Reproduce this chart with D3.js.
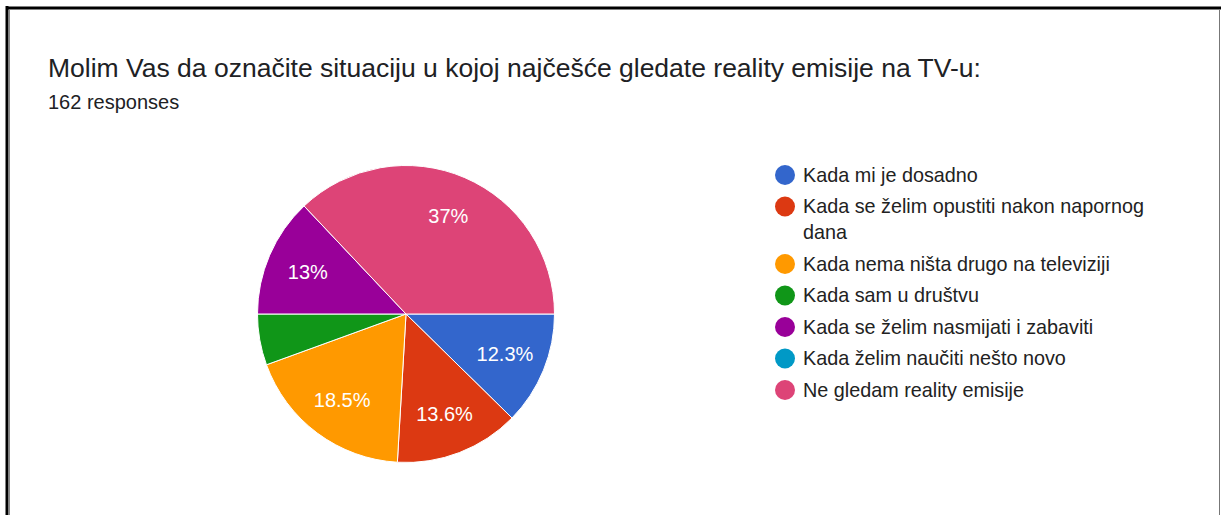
<!DOCTYPE html>
<html>
<head>
<meta charset="utf-8">
<script src="https://cdn.jsdelivr.net/npm/d3@7"></script>
<style>
  body { margin: 0; background: #fff; }
  svg { display: block; font-family: "Liberation Sans", Arial, sans-serif; }
</style>
</head>
<body>
<div id="chart"></div>
<script>
const title = "Molim Vas da označite situaciju u kojoj najčešće gledate reality emisije na TV-u:";
const subtitle = "162 responses";

const categories = [
    "Kada mi je dosadno",
    "Kada se želim opustiti nakon napornog dana",
    "Kada nema ništa drugo na televiziji",
    "Kada sam u društvu",
    "Kada se želim nasmijati i zabaviti",
    "Kada želim naučiti nešto novo",
    "Ne gledam reality emisije"
];
// response counts (162 total)
const counts = [20, 22, 30, 9, 21, 0, 60];
const colors = ["#3366cc", "#dc3912", "#ff9900", "#109618", "#990099", "#0099c6", "#dd4477"];

const W = 1221, H = 515;
const svg = d3.select("#chart").append("svg")
    .attr("width", W)
    .attr("height", H);

// frame of the screenshot
svg.append("rect").attr("x", 0).attr("y", 0).attr("width", W).attr("height", H).attr("fill", "#fff");
svg.append("line").attr("x1", 7).attr("x2", 7).attr("y1", 6).attr("y2", H).attr("stroke", "#000").attr("stroke-width", 3);
svg.append("line").attr("x1", 6).attr("x2", W).attr("y1", 8).attr("y2", 8).attr("stroke", "#000").attr("stroke-width", 3);
svg.append("line").attr("x1", 9.5).attr("x2", 9.5).attr("y1", 10).attr("y2", H).attr("stroke", "#888").attr("stroke-width", 1);
svg.append("line").attr("x1", 1219.5).attr("x2", 1219.5).attr("y1", 10).attr("y2", H).attr("stroke", "#777").attr("stroke-width", 1);

// Title
svg.append("text")
    .attr("x", 48)
    .attr("y", 77)
    .style("font-size", "26.5px")
    .attr("fill", "#202124")
    .text(title);

svg.append("text")
    .attr("x", 48)
    .attr("y", 109)
    .style("font-size", "20px")
    .attr("fill", "#202124")
    .text(subtitle);

// Pie
const cx = 406, cy = 314, r = 148.5;
const total = d3.sum(counts);
const data = categories.map((c, i) => ({ name: c, value: counts[i], color: colors[i] }));

const pie = d3.pie()
    .sort(null)
    .value(d => d.value)
    .startAngle(Math.PI / 2)
    .endAngle(Math.PI / 2 + 2 * Math.PI);

const arc = d3.arc().innerRadius(0).outerRadius(r);
const labelArc = d3.arc().innerRadius(r * 0.72).outerRadius(r * 0.72);

const g = svg.append("g").attr("transform", `translate(${cx},${cy})`);
const arcs = pie(data);

g.selectAll("path")
    .data(arcs.filter(d => d.data.value > 0))
    .enter().append("path")
    .attr("d", arc)
    .attr("fill", d => d.data.color)
    .attr("stroke", "#fff")
    .attr("stroke-width", 1);

const fmt = v => {
    const p = Math.round(v / total * 1000) / 10;
    return p + "%";
};

g.selectAll(".slice-label")
    .data(arcs.filter(d => d.data.value / total > 0.08))
    .enter().append("text")
    .attr("class", "slice-label")
    .attr("transform", d => `translate(${labelArc.centroid(d)})`)
    .attr("text-anchor", "middle")
    .attr("dy", "0.35em")
    .attr("fill", "#fff")
    .style("font-size", "20px")
    .text(d => fmt(d.data.value));

// Legend
const legendRows = [
    { lines: ["Kada mi je dosadno"] },
    { lines: ["Kada se želim opustiti nakon napornog", "dana"] },
    { lines: ["Kada nema ništa drugo na televiziji"] },
    { lines: ["Kada sam u društvu"] },
    { lines: ["Kada se želim nasmijati i zabaviti"] },
    { lines: ["Kada želim naučiti nešto novo"] },
    { lines: ["Ne gledam reality emisije"] }
];

const legend = svg.append("g").attr("transform", "translate(785,175)");
let yPos = 0;
legendRows.forEach((row, i) => {
    const item = legend.append("g").attr("transform", `translate(0,${yPos})`);
    item.append("circle")
        .attr("r", 10)
        .attr("fill", colors[i]);
    row.lines.forEach((ln, j) => {
        item.append("text")
            .attr("x", 18)
            .attr("y", j * 26)
            .attr("dy", "0.35em")
            .style("font-size", "19.8px")
            .attr("fill", "#222")
            .text(ln);
    });
    yPos += 31.5 + (row.lines.length - 1) * 26;
});
</script>
</body>
</html>
